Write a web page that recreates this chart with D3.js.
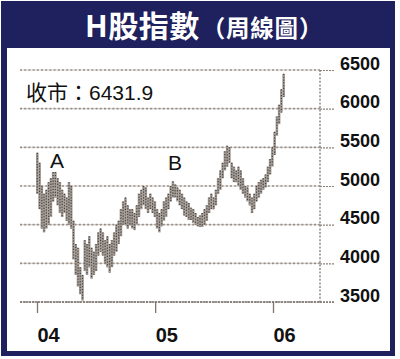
<!DOCTYPE html>
<html><head><meta charset="utf-8">
<script src="https://cdn.jsdelivr.net/npm/d3@7/dist/d3.min.js"></script>
<style>html,body{margin:0;padding:0;background:#fff;}svg{display:block;}</style>
</head><body>
<script>
// ---- data ----
const titleMain = "H股指數";
const titleSub = "（周線圖）";
const closeLabel = "收市：6431.9";
const yTicks = [3500, 4000, 4500, 5000, 5500, 6000, 6500];
const xTickDates = ["2004-01-01", "2005-01-01", "2006-01-01"];
const xTickLabels = ["04", "05", "06"];
const firstWeek = "2004-01-02";
const weeklyHigh = [5430,5300,5000,4900,4950,5050,5100,5180,5180,5100,
  5050,4950,4900,4850,5050,5000,4550,4250,4200,3950,
  3850,4300,4250,4350,4200,4150,4250,4400,4450,4400,
  4300,4350,4250,4300,4400,4500,4550,4700,4800,4850,
  4750,4700,4700,4650,4750,4900,4950,5000,4980,4850,
  4900,4850,4800,4700,4650,4700,4800,4850,4900,5000,
  5060,5020,4980,4950,4900,4850,4800,4780,4720,4700,
  4650,4600,4620,4650,4700,4750,4850,4900,4850,4950,
  5100,5200,5300,5450,5520,5500,5300,5250,5200,5250,
  5200,5100,5000,4980,4900,4850,4900,5000,5050,5080,
  5100,5150,5250,5350,5500,5700,5900,6050,6250,6450];
const weeklyLow = [4900,4700,4450,4400,4450,4500,4600,4800,4850,4750,
  4650,4600,4650,4550,4500,4450,4050,3850,3700,3600,
  3520,3900,3850,3950,3800,3850,3900,4100,4150,4100,
  4000,3950,3880,3950,4100,4150,4250,4350,4500,4500,
  4450,4500,4450,4430,4500,4600,4700,4750,4700,4650,
  4700,4650,4600,4450,4400,4480,4550,4600,4700,4800,
  4850,4850,4800,4750,4700,4620,4600,4560,4560,4520,
  4500,4480,4470,4470,4500,4550,4650,4700,4700,4750,
  4900,4950,5100,5200,5250,5300,5100,5050,5050,5000,
  4950,4900,4850,4800,4750,4650,4700,4800,4850,4900,
  4950,4980,5050,5150,5250,5400,5650,5800,5950,6150];

// ---- layout ----
const W = 400, H = 359;
const navy = "#1f205e";
const svg = d3.select("body").append("svg").attr("width", W).attr("height", H);

svg.append("rect").attr("x", 1).attr("y", 1).attr("width", 394).attr("height", 355).attr("fill", navy);
svg.append("rect").attr("x", 7).attr("y", 48).attr("width", 383).attr("height", 303).attr("fill", "#fff");

// title
const t = svg.append("text").attr("x", 85).attr("y", 37)
  .attr("fill", "#fff").attr("font-family", "'Noto Sans CJK TC','Noto Sans CJK SC',sans-serif")
  .attr("font-weight", "bold");
t.append("tspan").attr("font-size", 30).attr("letter-spacing", 0.5).text(titleMain);
t.append("tspan").attr("font-size", 23.5).attr("dx", 2).attr("letter-spacing", 0.8).text(titleSub);

const parse = d3.timeParse("%Y-%m-%d");
const x = d3.scaleTime().domain([parse("2004-01-01"), parse("2006-01-01")]).range([37, 273]);
const y = d3.scaleLinear().domain([3500, 6500]).range([302, 70]);

const start = parse(firstWeek);
const weeks = weeklyHigh.map((h, i) => ({date: d3.timeWeek.offset(start, i), high: h, low: weeklyLow[i]}));

// grid
const gridC = "#9a8f88";
svg.append("g").selectAll("line").data(yTicks).join("line")
  .attr("x1", 20).attr("x2", 320)
  .attr("y1", d => y(d)).attr("y2", d => y(d))
  .attr("stroke", "#d9d2cd").attr("stroke-width", 1.2);
svg.append("g").selectAll("line").data(yTicks).join("line")
  .attr("x1", 20).attr("x2", 320)
  .attr("y1", d => y(d)).attr("y2", d => y(d))
  .attr("stroke", gridC).attr("stroke-width", 1.6).attr("stroke-dasharray", "2,2.2");
svg.append("line").attr("x1", 320).attr("x2", 320).attr("y1", y(6500)).attr("y2", y(3500))
  .attr("stroke", gridC).attr("stroke-width", 1.6).attr("stroke-dasharray", "2,1.6");
svg.append("line").attr("x1", 20).attr("x2", 334).attr("y1", y(3500)).attr("y2", y(3500))
  .attr("stroke", "#7d746e").attr("stroke-width", 1.6).attr("stroke-dasharray", "2,1");

// right axis
const yAxis = d3.axisRight(y).tickValues(yTicks).tickSize(14).tickPadding(6).tickFormat(d3.format("d"));
const ya = svg.append("g").attr("transform", "translate(320,0)").call(yAxis);
ya.select(".domain").remove();
ya.selectAll(".tick line").attr("stroke", "#8a817b").attr("stroke-width", 1.2).attr("stroke-dasharray", "2,1");
ya.selectAll(".tick text").attr("font-family", "'Liberation Sans',Arial,sans-serif")
  .attr("font-size", 18).attr("font-weight", "bold").attr("fill", "#111")
  .attr("x", 20).attr("dy", "-1px").attr("dominant-baseline", "auto");

// bottom axis
const xAxis = d3.axisBottom(x).tickValues(xTickDates.map(parse)).tickSize(11)
  .tickFormat((d, i) => xTickLabels[i]);
const xa = svg.append("g").attr("transform", "translate(0,302)").call(xAxis);
xa.select(".domain").remove();
xa.selectAll(".tick line").attr("stroke", "#7d746e").attr("stroke-width", 1.3);
xa.selectAll(".tick text").attr("font-family", "'Liberation Sans',Arial,sans-serif")
  .attr("font-size", 20).attr("font-weight", "bold").attr("fill", "#111")
  .attr("text-anchor", "start").attr("y", 40).attr("dy", 0);

// bars
svg.append("g").selectAll("line").data(weeks).join("line")
  .attr("x1", d => x(d.date)).attr("x2", d => x(d.date))
  .attr("y1", d => y(d.high)).attr("y2", d => y(d.low))
  .attr("stroke", "#a39b95").attr("stroke-width", 2.6);
svg.append("g").selectAll("line").data(weeks).join("line")
  .attr("x1", d => x(d.date)).attr("x2", d => x(d.date))
  .attr("y1", d => y(d.high)).attr("y2", d => y(d.low))
  .attr("stroke", "#4a4440").attr("stroke-width", 1.2).attr("stroke-dasharray", "1.2,1.6");

// annotations
const txtFont = "'Liberation Sans','Noto Sans CJK TC',sans-serif";
svg.append("text").attr("x", 26).attr("y", 100).attr("font-family", txtFont)
  .attr("font-size", 21).attr("fill", "#111").text(closeLabel);
svg.append("text").attr("x", 57).attr("y", 168).attr("text-anchor", "middle").attr("font-family", txtFont)
  .attr("font-size", 21).attr("fill", "#111").text("A");
svg.append("text").attr("x", 175).attr("y", 170).attr("text-anchor", "middle").attr("font-family", txtFont)
  .attr("font-size", 21).attr("fill", "#111").text("B");
</script>
</body></html>
